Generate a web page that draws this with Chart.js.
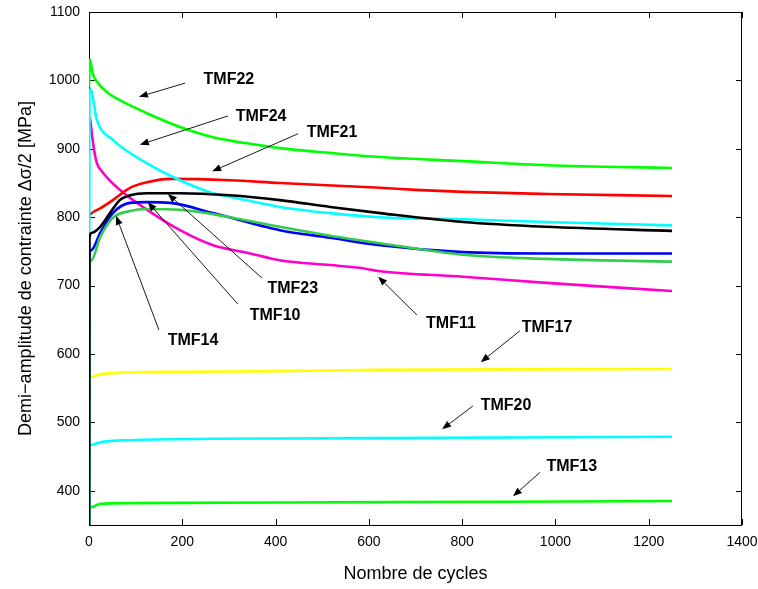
<!DOCTYPE html>
<html>
<head>
<meta charset="utf-8">
<script src="https://cdn.jsdelivr.net/npm/chart.js@4/dist/chart.umd.min.js"></script>
<style>
  html, body { margin: 0; padding: 0; background: #ffffff; }
  #wrap { width: 758px; height: 589px; }
</style>
</head>
<body>
<div id="wrap"><canvas id="c" width="758" height="589"></canvas></div>
<script>
// ---- Data (cycles, half stress amplitude in MPa) ----
const xTicks = [0, 200, 400, 600, 800, 1000, 1200, 1400];
const yTicks = [400, 500, 600, 700, 800, 900, 1000, 1100];

const cycTMF22 = [0, 2, 8, 17, 40, 66, 124, 195, 266, 339, 409, 517, 624, 802, 981, 1250];
const valTMF22 = [990, 1030, 1010, 998, 982, 971, 952, 932, 917, 908, 901, 894, 888, 882, 876, 872];

const cycTMF24 = [0, 1, 3, 17, 51, 124, 195, 266, 302, 409, 517, 624, 802, 981, 1250];
const valTMF24 = [350, 980, 987, 942, 913, 879, 854, 835, 830, 815, 806, 800, 797, 793, 788];

const cycTMF21 = [0, 10, 24, 51, 88, 124, 174, 302, 409, 624, 700, 802, 981, 1250];
const valTMF21 = [803, 808, 813, 825, 843, 851, 856, 854, 850, 843, 840, 837, 834, 831];

const cycTMF23 = [0, 1, 5, 24, 45, 66, 88, 124, 195, 302, 409, 517, 624, 802, 981, 1250];
const valTMF23 = [350, 770, 777, 786, 806, 825, 832, 835, 835, 832, 825, 815, 806, 793, 786, 780];

const cycTMF10 = [0, 1, 5, 24, 51, 88, 124, 174, 266, 409, 517, 624, 802, 981, 1250];
const valTMF10 = [350, 745, 752, 777, 806, 821, 822, 821, 806, 781, 770, 759, 749, 747, 747];

const cycTMF14 = [0, 1, 5, 24, 51, 88, 124, 195, 302, 409, 517, 624, 802, 981, 1250];
const valTMF14 = [350, 730, 737, 771, 799, 809, 812, 811, 800, 786, 773, 762, 745, 739, 735];

const cycTMF11 = [2, 11, 17, 30, 66, 124, 195, 266, 339, 409, 517, 580, 624, 802, 981, 1250];
const valTMF11 = [945, 898, 879, 865, 840, 811, 781, 759, 748, 737, 730, 726, 721, 713, 704, 692];

const cycTMF17 = [0, 1, 5, 17, 51, 195, 409, 624, 1250];
const valTMF17 = [350, 562, 566, 569, 572, 574, 575, 577, 578];

const cycTMF20 = [0, 1, 5, 24, 88, 266, 624, 1250];
const valTMF20 = [350, 464, 467, 471, 474, 476, 477, 479];

const cycTMF13 = [0, 1, 5, 24, 88, 400, 900, 1250];
const valTMF13 = [350, 373, 376, 381, 382, 383, 384, 385];

// Annotation labels: text position, arrow tail, arrow head (data units)
const labelNames = ['TMF22', 'TMF24', 'TMF21', 'TMF23', 'TMF10', 'TMF14', 'TMF11', 'TMF17', 'TMF20', 'TMF13'];
const labelAt   = [[300, 1001], [369, 947], [521, 923], [437, 695], [399, 656], [223, 620], [776, 645], [982, 638], [894, 524], [1035, 436]];
const arrowFrom = [[206, 996], [298, 948], [448, 922], [371, 711], [319, 673], [150, 635], [703, 657], [924, 634], [823, 524], [967, 427]];
const arrowTo   = [[107, 976], [109, 906], [264, 867], [169, 834], [126, 822], [58, 802], [620, 713], [840, 588], [757, 490], [909, 392]];

function pts(xs, ys) { return xs.map((x, i) => ({ x: x, y: ys[i] })); }

// first entry drawn on top
const series = [
  ['TMF23', cycTMF23, valTMF23, '#000000'],
  ['TMF14', cycTMF14, valTMF14, '#33cc4c'],
  ['TMF10', cycTMF10, valTMF10, '#0000ff'],
  ['TMF24', cycTMF24, valTMF24, '#00ffff'],
  ['TMF21', cycTMF21, valTMF21, '#ff0000'],
  ['TMF11', cycTMF11, valTMF11, '#ff00c8'],
  ['TMF22', cycTMF22, valTMF22, '#00ff00'],
  ['TMF17', cycTMF17, valTMF17, '#ffff00'],
  ['TMF20', cycTMF20, valTMF20, '#00ffff'],
  ['TMF13', cycTMF13, valTMF13, '#00ff00']
];

const FONT = "'Liberation Sans', Arial, Helvetica, sans-serif";

const framePlugin = {
  id: 'frame',
  beforeDatasetsDraw(chart) {
    const { ctx, chartArea: a, scales } = chart;
    ctx.save();
    ctx.strokeStyle = '#000';
    ctx.lineWidth = 1;
    ctx.strokeRect(a.left + 0.5, a.top + 0.5, a.right - a.left - 1, a.bottom - a.top);
    const tl = 6;
    ctx.beginPath();
    xTicks.forEach(v => {
      const px = Math.round(scales.x.getPixelForValue(v)) + 0.5;
      ctx.moveTo(px, a.bottom); ctx.lineTo(px, a.bottom - tl);
      ctx.moveTo(px, a.top); ctx.lineTo(px, a.top + tl);
    });
    yTicks.forEach(v => {
      const py = Math.round(scales.y.getPixelForValue(v)) + 0.5;
      ctx.moveTo(a.left, py); ctx.lineTo(a.left + tl, py);
      ctx.moveTo(a.right, py); ctx.lineTo(a.right - tl, py);
    });
    ctx.stroke();
    ctx.restore();
  },
  afterDatasetsDraw(chart) {
    const { ctx, scales } = chart;
    const sx = v => scales.x.getPixelForValue(v);
    const sy = v => scales.y.getPixelForValue(v);
    ctx.save();
    ctx.strokeStyle = '#1a1a1a';
    ctx.fillStyle = '#000';
    ctx.lineWidth = 1;
    labelNames.forEach((name, i) => {
      const x1 = sx(arrowFrom[i][0]), y1 = sy(arrowFrom[i][1]);
      const x2 = sx(arrowTo[i][0]), y2 = sy(arrowTo[i][1]);
      const ang = Math.atan2(y2 - y1, x2 - x1);
      const hl = 9, hw = 3.5;
      const bx = x2 - hl * Math.cos(ang), by = y2 - hl * Math.sin(ang);
      ctx.beginPath();
      ctx.moveTo(x1, y1); ctx.lineTo(bx, by);
      ctx.stroke();
      ctx.beginPath();
      ctx.moveTo(x2, y2);
      ctx.lineTo(bx + hw * Math.sin(ang), by - hw * Math.cos(ang));
      ctx.lineTo(bx - hw * Math.sin(ang), by + hw * Math.cos(ang));
      ctx.closePath();
      ctx.fill();
      ctx.font = 'bold 16px ' + FONT;
      ctx.textAlign = 'center';
      ctx.textBaseline = 'middle';
      ctx.fillText(name, sx(labelAt[i][0]), sy(labelAt[i][1]));
    });
    ctx.restore();
  }
};

function noPad(s) { s.paddingTop = 0; s.paddingBottom = 0; s.paddingLeft = 0; s.paddingRight = 0; }

new Chart(document.getElementById('c'), {
  type: 'line',
  data: {
    datasets: series.map(s => ({
      label: s[0],
      data: pts(s[1], s[2]),
      borderColor: s[3],
      backgroundColor: s[3],
      borderWidth: 2.6,
      pointRadius: 0,
      fill: false,
      cubicInterpolationMode: 'monotone'
    }))
  },
  options: {
    responsive: false,
    animation: false,
    devicePixelRatio: 1,
    layout: { padding: { left: 11, right: 16, top: 12, bottom: 0 } },
    plugins: { legend: { display: false }, tooltip: { enabled: false } },
    scales: {
      x: {
        type: 'linear',
        min: 0, max: 1400,
        afterBuildTicks: s => { s.ticks = xTicks.map(v => ({ value: v })); },
        afterFit: s => { s.height = 64; noPad(s); },
        grid: { display: false, drawTicks: false },
        border: { display: false },
        ticks: { color: '#000', font: { family: FONT, size: 14 }, padding: 9, maxRotation: 0, autoSkip: false, callback: v => String(v) },
        title: { display: true, text: 'Nombre de cycles', color: '#000', font: { family: FONT, size: 18 }, padding: { top: 4, bottom: 4 } }
      },
      y: {
        type: 'linear',
        min: 350, max: 1100,
        afterBuildTicks: s => { s.ticks = yTicks.map(v => ({ value: v })); },
        afterFit: s => { s.width = 78; noPad(s); },
        grid: { display: false, drawTicks: false },
        border: { display: false },
        ticks: { color: '#000', font: { family: FONT, size: 14 }, padding: 9, autoSkip: false, callback: v => String(v) },
        title: { display: true, text: 'Demi\u2212amplitude de contrainte \u0394\u03c3/2 [MPa]', color: '#000', font: { family: FONT, size: 18 }, padding: { top: 4, bottom: 4 } }
      }
    }
  },
  plugins: [framePlugin]
});
</script>
</body>
</html>
